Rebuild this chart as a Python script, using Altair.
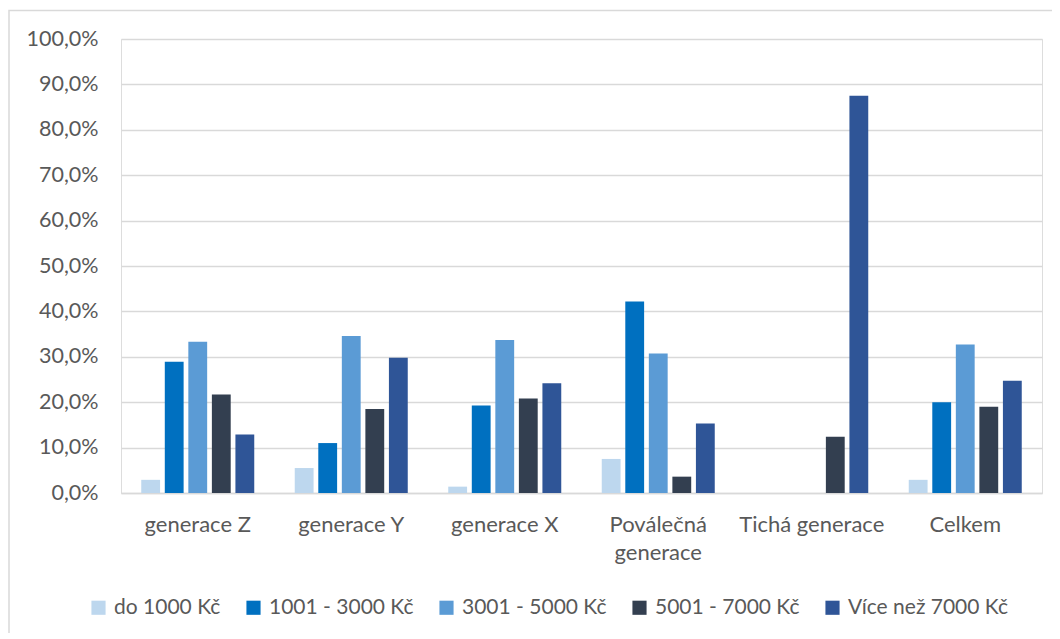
import altair as alt
import pandas as pd

categories = ["generace Z", "generace Y", "generace X", "Poválečná generace", "Tichá generace", "Celkem"]
series = ["do 1000 Kč", "1001 - 3000 Kč", "3001 - 5000 Kč", "5001 - 7000 Kč", "Více než 7000 Kč"]
do_1000 = [2.9, 5.5, 1.4, 7.5, None, 2.9]
s_1001_3000 = [28.9, 11.0, 19.3, 42.2, None, 20.0]
s_3001_5000 = [33.3, 34.6, 33.7, 30.7, None, 32.7]
s_5001_7000 = [21.7, 18.5, 20.8, 3.6, 12.4, 19.0]
vice_7000 = [12.9, 29.8, 24.2, 15.3, 87.5, 24.7]
colors = ["#BDD7EE", "#0070C0", "#5B9BD5", "#333F50", "#2F5597"]

rows = []
for s, vals in zip(series, [do_1000, s_1001_3000, s_3001_5000, s_5001_7000, vice_7000]):
    for c, v in zip(categories, vals):
        if v is not None:
            rows.append({"kategorie": c, "rada": s, "hodnota": v})
df = pd.DataFrame(rows)

FONT = "Lato"
GREY = "#595959"

bars = alt.Chart(df).mark_bar().encode(
    x=alt.X("kategorie:N", sort=categories, title=None,
            scale=alt.Scale(paddingInner=0, paddingOuter=0),
            axis=alt.Axis(labelAngle=0, labelFont=FONT, labelFontSize=22, labelColor=GREY,
                          labelPadding=21, labelLineHeight=28, ticks=False,
                          domainColor="#D9D9D9", domainWidth=1.5,
                          labelExpr="datum.label == 'Poválečná generace' ? ['Poválečná', 'generace'] : datum.label")),
    xOffset=alt.XOffset("rada:N", sort=series,
                        scale=alt.Scale(paddingInner=0.2, paddingOuter=0.86)),
    y=alt.Y("hodnota:Q", title=None,
            scale=alt.Scale(domain=[0, 100], nice=False),
            axis=alt.Axis(values=list(range(0, 101, 10)), labelFont=FONT, labelFontSize=21.5,
                          labelColor=GREY, labelPadding=23, ticks=False, domain=False,
                          gridColor="#D9D9D9", gridWidth=1.5,
                          labelExpr="replace(format(datum.value, '.1f'), '.', ',') + '%'")),
    color=alt.Color("rada:N", sort=series, scale=alt.Scale(domain=series, range=colors),
                    legend=alt.Legend(title=None, orient="none", direction="horizontal",
                                      legendX=-33, legendY=558, symbolType="square",
                                      symbolSize=200, symbolStrokeWidth=0, labelFont=FONT,
                                      labelFontSize=21, labelColor=GREY, labelOffset=5,
                                      labelLimit=400, columnPadding=22)),
)

border = alt.Chart(pd.DataFrame({"a": [0]})).mark_rect(
    fillOpacity=0, stroke="#D9D9D9", strokeWidth=1.5, clip=False
).encode(x=alt.value(-112), x2=alt.value(940), y=alt.value(-28.5), y2=alt.value(620))

chart = alt.layer(border, bars).properties(
    width=921, height=454,
    autosize=alt.AutoSizeParams(type="none"),
    padding={"left": 113, "top": 31, "right": 10, "bottom": 140},
).configure_view(stroke=None).configure(background="white")

chart.save("out.html", embed_options={"renderer": "svg", "actions": False})
